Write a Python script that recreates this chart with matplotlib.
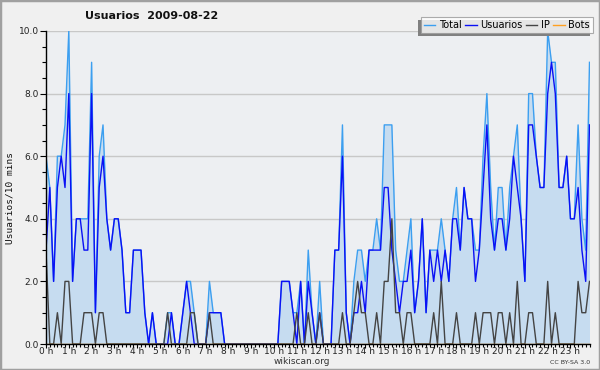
import numpy as np
import matplotlib
matplotlib.use("Agg")
from matplotlib import pyplot as plt
from matplotlib.patches import Rectangle
from matplotlib.ticker import MultipleLocator, FixedLocator

# usuarios / 10 min, 144 intervalos (6 por hora)
usuarios = [3, 5, 2, 5, 6, 5,  8, 2, 4, 4, 3, 3,  8, 1, 5, 6, 4, 3,  4, 4, 3, 1, 1, 3,
            3, 3, 1, 0, 1, 0,  0, 0, 0, 1, 0, 0,  1, 2, 1, 0, 0, 0,  0, 1, 1, 1, 1, 0,
            0, 0, 0, 0, 0, 0,  0, 0, 0, 0, 0, 0,  0, 0, 2, 2, 2, 1,  0, 2, 0, 2, 1, 0,
            1, 0, 0, 0, 3, 3,  6, 1, 0, 1, 1, 2,  1, 3, 3, 3, 3, 5,  5, 3, 2, 1, 2, 2,
            3, 1, 2, 4, 1, 3,  2, 3, 2, 3, 2, 4,  4, 3, 5, 4, 4, 2,  3, 5, 7, 4, 3, 4,
            4, 3, 4, 6, 5, 4,  2, 7, 7, 6, 5, 5,  8, 9, 8, 5, 5, 6,  4, 4, 5, 3, 2, 7]

ip = [3, 0, 0, 1, 0, 2,  2, 0, 0, 0, 1, 1,  1, 0, 1, 1, 0, 0,  0, 0, 0, 0, 0, 0,
      0, 0, 0, 0, 0, 0,  0, 0, 1, 0, 0, 0,  0, 0, 1, 1, 0, 0,  0, 1, 0, 0, 0, 0,
      0, 0, 0, 0, 0, 0,  0, 0, 0, 0, 0, 0,  0, 0, 0, 0, 0, 0,  1, 0, 0, 1, 0, 0,
      1, 0, 0, 0, 0, 0,  1, 0, 0, 1, 2, 1,  1, 0, 0, 1, 0, 2,  2, 4, 1, 1, 0, 1,
      1, 0, 0, 0, 0, 0,  1, 0, 2, 0, 0, 0,  1, 0, 0, 0, 0, 1,  0, 1, 1, 1, 0, 1,
      1, 0, 1, 0, 2, 0,  0, 1, 1, 0, 0, 0,  2, 0, 1, 0, 0, 0,  0, 0, 2, 1, 1, 2]

total = [6, 5, 2, 6, 6, 7,  10, 2, 4, 4, 4, 4,  9, 1, 6, 7, 4, 3,  4, 4, 3, 1, 1, 3,
         3, 3, 1, 0, 1, 0,  0, 0, 1, 1, 0, 0,  1, 2, 2, 1, 0, 0,  0, 2, 1, 1, 1, 0,
         0, 0, 0, 0, 0, 0,  0, 0, 0, 0, 0, 0,  0, 0, 2, 2, 2, 1,  1, 2, 0, 3, 1, 0,
         2, 0, 0, 0, 3, 3,  7, 1, 0, 2, 3, 3,  2, 3, 3, 4, 3, 7,  7, 7, 3, 2, 2, 3,
         4, 1, 2, 4, 1, 3,  3, 3, 4, 3, 2, 4,  5, 3, 5, 4, 4, 3,  3, 6, 8, 5, 3, 5,
         5, 3, 5, 6, 7, 4,  2, 8, 8, 6, 5, 5,  10, 9, 9, 5, 5, 6,  4, 4, 7, 4, 3, 9]

bots = [0, 0, 0, 0, 0, 0,  0, 0, 0, 0, 0, 0,  0, 0, 0, 0, 0, 0,  0, 0, 0, 0, 0, 0,
        0, 0, 0, 0, 0, 0,  0, 0, 0, 0, 0, 0,  0, 0, 0, 0, 0, 0,  0, 0, 0, 0, 0, 0,
        0, 0, 0, 0, 0, 0,  0, 0, 0, 0, 0, 0,  0, 0, 0, 0, 0, 0,  0, 0, 0, 0, 0, 0,
        0, 0, 0, 0, 0, 0,  0, 0, 0, 0, 0, 0,  0, 0, 0, 0, 0, 0,  0, 0, 0, 0, 0, 0,
        0, 0, 0, 0, 0, 0,  0, 0, 0, 0, 0, 0,  0, 0, 0, 0, 0, 0,  0, 0, 0, 0, 0, 0,
        0, 0, 0, 0, 0, 0,  0, 0, 0, 0, 0, 0,  0, 0, 0, 0, 0, 0,  0, 0, 0, 0, 0, 0]

horas = [f"{h} h" for h in range(24)]
titulo = "Usuarios  2009-08-22"

x = np.arange(len(total))

fig = plt.figure(figsize=(6, 3.7), dpi=100, facecolor="#f0f0f0")
W, H = 600.0, 370.0
ax = fig.add_axes([46 / W, (H - 344) / H, (589.5 - 46) / W, (344 - 31) / H])
ax.set_facecolor("#edeff2")

for y in [2, 4, 6, 8, 10]:
    ax.axhline(y, color="#c8c8c8", lw=1.0, zorder=1)

ax.fill_between(x, total, 0, color="#c6dcf0", lw=0, zorder=2)
ax.plot(x, total, color="#3c9ff0", lw=1.0, label="Total", zorder=3)
ax.plot(x, usuarios, color="#0a10f5", lw=1.0, label="Usuarios", zorder=4)
ax.plot(x, ip, color="#444444", lw=1.0, label="IP", zorder=5)
ax.plot(x, bots, color="#ffa020", lw=1.0, label="Bots", zorder=6)

ax.set_xlim(0, 143)
ax.set_ylim(0, 10)
for s in ["top", "right"]:
    ax.spines[s].set_visible(False)
for s in ["left", "bottom"]:
    ax.spines[s].set_color("black")
    ax.spines[s].set_linewidth(1.0)
    ax.spines[s].set_zorder(7)

ax.xaxis.set_major_locator(FixedLocator(np.arange(0, 144, 6)))
ax.set_xticklabels(horas)
ax.xaxis.set_minor_locator(MultipleLocator(1))
ax.yaxis.set_major_locator(MultipleLocator(2))
ax.yaxis.set_minor_locator(MultipleLocator(0.5))
ax.set_yticklabels([f"{v:.1f}" for v in ax.get_yticks()])
ax.tick_params(axis="x", which="major", length=3, width=0.8, pad=-1,
               labelsize=6.5, labelcolor="#222222")
ax.tick_params(axis="x", which="minor", length=2.5, width=0.8)
ax.tick_params(axis="y", which="major", length=4, width=0.8, pad=1,
               labelsize=6.5, labelcolor="#222222")
ax.tick_params(axis="y", which="minor", length=3, width=0.8)

fig.text(10 / W, (H - 198) / H, "Usuarios/10 mins", rotation=90,
         ha="center", va="center", family="DejaVu Sans Mono", fontsize=6.8,
         color="#111111")
fig.text(85 / W, (H - 16) / H, titulo, ha="left", va="center",
         fontsize=8, fontweight="bold", color="#111111")
fig.text(302 / W, (H - 362) / H, "wikiscan.org", ha="center", va="center",
         fontsize=6.5, color="#333333")
fig.text(590 / W, (H - 362) / H, "CC BY-SA 3.0", ha="right", va="center",
         fontsize=4.5, color="#333333")

handles, labels = ax.get_legend_handles_labels()
leg = fig.legend(handles, labels, loc="upper right",
                 bbox_to_anchor=(593 / W, (H - 17) / H), ncol=4,
                 fontsize=7, frameon=True, fancybox=False, borderpad=0.3,
                 handlelength=1.2, handletextpad=0.4, columnspacing=0.3,
                 borderaxespad=0)
leg.get_frame().set_facecolor("white")
leg.get_frame().set_edgecolor("#999999")
leg.get_frame().set_linewidth(0.8)
leg.set_zorder(10)

# sombra gris a la izquierda y abajo de la leyenda
fig.canvas.draw()
bb = leg.legendPatch.get_window_extent().transformed(fig.transFigure.inverted())
fig.patches.append(Rectangle((bb.x0 - 3 / W, bb.y0 - 3 / H), bb.width, bb.height,
                             transform=fig.transFigure, facecolor="#808080",
                             edgecolor="none", zorder=9))

fig.patches.append(Rectangle((0, 0), 1, 1, transform=fig.transFigure,
                             fill=False, edgecolor="#a0a0a0", lw=2.5, zorder=20))

fig.savefig("out.png", dpi=100, facecolor=fig.get_facecolor())
